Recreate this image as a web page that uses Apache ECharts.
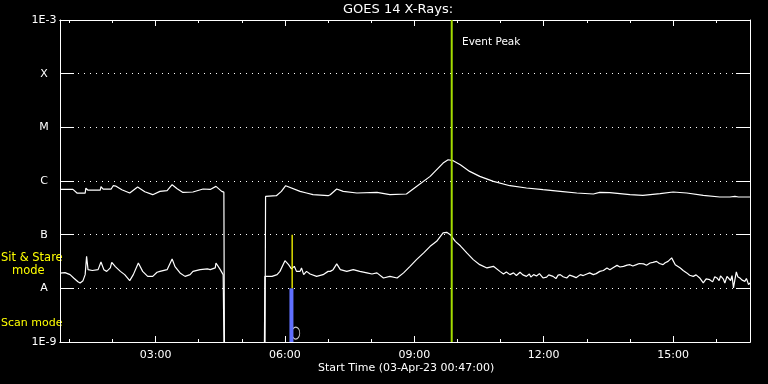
<!DOCTYPE html>
<html><head><meta charset="utf-8">
<script src="https://cdn.jsdelivr.net/npm/echarts@6/dist/echarts.min.js"></script>
<style>html,body{margin:0;padding:0;background:#000}#c{width:768px;height:384px}</style>
</head><body><div id="c"></div>
<script>
// time in minutes after 00:00 on 03-Apr-23
const startMinute = 47;
const endMinute = 1007;
const hourTicks = [60,120,180,240,300,360,420,480,540,600,660,720,780,840,900,960];
const labelTicks = [180,360,540,720,900];
const yLabels = {'-3':'1E-3','-4':'X','-5':'M','-6':'C','-7':'B','-8':'A','-9':'1E-9'};
const titleText = 'GOES 14 X-Rays:';
const xTitle = 'Start Time (03-Apr-23 00:47:00)';
const eventPeakMinute = 592;
const modeSwitchMinute = 370;
const scanMarker = [[375, 1.47e-9]];

// long channel (1-8 A), flux in units of 1e-7 W/m^2
const longChannel = [[47,6.97],[65,6.97],[71,5.93],[82,5.93],[83,7.34],[86,6.74],[103,6.74],[104,7.83],[107,7.03],[118,7.03],[121,8.17],[125,8.0],[133,6.88],[144,5.98],[155,7.73],[165,6.32],[176,5.56],[186,6.40],[196,6.60],[203,8.53],[210,7.19],[218,6.13],[232,6.24],[246,7.09],[256,6.97],[264,7.93],[272,6.40],[275,6.2],[276,0.001],[332,0.001],[333,5.16],[348,5.32],[355,6.40],[361,8.17],[381,6.40],[390,5.98],[399,5.56],[420,5.32],[423,5.56],[432,7.09],[441,6.40],[460,5.98],[488,6.13],[506,5.56],[529,5.73],[543,7.93],[562,12.2],[580,21.6],[587,24.9],[594,23.9],[604,20.1],[617,15.1],[631,12.2],[650,9.83],[673,8.17],[696,7.41],[719,6.88],[743,6.40],[766,5.98],[789,5.73],[798,6.13],[812,6.05],[826,5.80],[840,5.56],[858,5.39],[882,5.80],[900,6.24],[919,5.98],[942,5.39],[965,5.03],[979,5.03],[986,5.16],[991,5.03],[1007,5.03]];

// short channel (0.5-4 A), flux in units of 1e-9 W/m^2
const shortChannel = [[47,19.2],[54,19.6],[61,18.0],[66,15.6],[72,13.3],[75,12.6],[79,13.9],[82,18.0],[84,39.5],[86,22.3],[92,21.5],[100,22.3],[104,31.0],[108,22.3],[112,20.7],[117,24.0],[119,30.5],[124,25.4],[131,20.7],[137,18.0],[144,13.9],[149,18.0],[156,29.7],[162,20.7],[169,16.7],[176,16.7],[182,19.9],[186,20.7],[196,22.3],[203,35.3],[207,25.4],[214,19.4],[221,16.7],[228,18.0],[232,20.7],[242,22.3],[252,23.0],[256,22.3],[263,24.0],[264,29.7],[270,22.3],[274,18.0],[275,17.0],[276,0.1],[331,0.1],[332,16.7],[334,18.0],[342,16.7],[349,18.0],[353,20.7],[360,32.8],[365,27.6],[369,23.0],[373,25.7],[376,20.7],[381,20.7],[383,24.0],[386,18.0],[390,20.7],[395,18.5],[404,16.7],[413,18.0],[420,20.7],[423,20.7],[427,22.3],[432,28.5],[437,22.3],[446,20.7],[455,22.3],[464,20.7],[474,19.4],[481,18.5],[488,19.4],[497,15.6],[506,16.7],[516,15.6],[525,19.4],[534,25.7],[543,34.3],[553,45.7],[562,60.6],[571,75.1],[580,107.7],[585,110.5],[590,100],[597,75.1],[604,62.0],[613,45.7],[622,34.3],[631,27.6],[641,24.0],[650,25.7],[659,20.7],[664,18.5],[668,20.2],[673,18.0],[678,19.4],[682,17.3],[687,19.9],[691,17.8],[696,16.7],[700,18.5],[702,16.2],[706,18.0],[710,17.0],[714,18.8],[719,15.6],[724,16.2],[727,17.8],[733,16.7],[737,15.2],[740,17.6],[743,18.0],[747,16.4],[752,15.6],[756,17.6],[761,16.7],[765,15.8],[771,18.0],[775,17.3],[780,18.5],[784,19.4],[789,18.0],[793,18.8],[798,20.7],[803,21.5],[808,24.0],[812,22.3],[817,24.5],[822,26.8],[826,25.0],[831,25.7],[836,27.0],[840,27.6],[844,26.0],[849,27.6],[853,29.0],[859,28.5],[863,27.0],[868,29.7],[872,30.5],[877,31.8],[881,29.0],[886,27.6],[889,30.0],[893,31.8],[898,36.9],[903,27.6],[910,24.0],[914,21.5],[919,19.4],[923,17.5],[928,16.7],[932,17.8],[937,15.6],[942,12.6],[946,15.0],[951,14.5],[955,13.2],[958,16.5],[961,15.6],[964,13.9],[966,17.0],[968,18.0],[970,14.8],[972,12.6],[975,16.7],[977,18.0],[980,14.0],[982,17.2],[984,10.2],[986,14.5],[988,20.2],[990,16.5],[993,15.6],[996,14.2],[1000,13.5],[1002,15.3],[1005,11.7],[1007,12.6]];

const FONT = 'DejaVu Sans';
const fmtTime = m => String(Math.floor(m/60)).padStart(2,'0') + ':' + String(m%60).padStart(2,'0');

function xAx(pos, ticks, len, labels) {
  return {
    type: 'value', min: startMinute, max: endMinute, position: pos,
    axisLine: {show: true, lineStyle: {color: '#fff', width: 1}},
    axisTick: {show: true, inside: true, length: len, customValues: ticks, lineStyle: {color: '#fff'}},
    axisLabel: labels ? {show: true, customValues: ticks, formatter: fmtTime, color: '#fff', fontFamily: FONT, fontSize: 11, margin: 8} : {show: false},
    splitLine: {show: false}
  };
}
function yAx(pos, labels) {
  return {
    type: 'log', logBase: 10, min: 1e-9, max: 1e-3, splitNumber: 6, position: pos,
    axisLine: {show: true, lineStyle: {color: '#fff', width: 1}},
    axisTick: {show: true, inside: true, length: 14, lineStyle: {color: '#fff'}},
    axisLabel: labels ? {show: true, color: '#fff', fontFamily: FONT, fontSize: 11, margin: 16, align: 'center',
      formatter: v => yLabels[String(Math.round(Math.log10(v)))] || ''} : {show: false},
    splitLine: labels ? {show: true, lineStyle: {color: '#fff', width: 1, type: [1, 5]}} : {show: false}
  };
}

const chart = echarts.init(document.getElementById('c'), null, {renderer: 'canvas'});
chart.setOption({
  backgroundColor: '#000',
  animation: false,
  grid: {left: 60, right: 18, top: 20, bottom: 42},
  xAxis: [xAx('bottom', hourTicks, 3, false), xAx('bottom', labelTicks, 6, true), xAx('top', hourTicks, 3, false), xAx('top', labelTicks, 6, false)],
  yAxis: [yAx('left', true), yAx('right', false)],
  graphic: [
    {type: 'text', left: 343, top: 3, style: {text: titleText, fill: '#fff', font: '13px "DejaVu Sans"'}},
    {type: 'text', left: 318, top: 363, style: {text: xTitle, fill: '#fff', font: '11px "DejaVu Sans"'}},
    {type: 'text', left: 462, top: 37, style: {text: 'Event Peak', fill: '#fff', font: '10.5px "DejaVu Sans"'}},
    {type: 'text', left: 1, top: 252, style: {text: 'Sit & Stare', fill: '#ffff00', font: '11.5px "DejaVu Sans"'}},
    {type: 'text', left: 12, top: 265, style: {text: 'mode', fill: '#ffff00', font: '11.5px "DejaVu Sans"'}},
    {type: 'text', left: 1, top: 318, style: {text: 'Scan mode', fill: '#ffff00', font: '11px "DejaVu Sans"'}}
  ],
  series: [
    {type: 'line', name: 'long', xAxisIndex: 0, yAxisIndex: 0, showSymbol: false, symbol: 'none',
     lineStyle: {color: '#fff', width: 1.2}, data: longChannel.map(p => [p[0], p[1] * 1e-7])},
    {type: 'line', name: 'short', xAxisIndex: 0, yAxisIndex: 0, showSymbol: false, symbol: 'none',
     lineStyle: {color: '#fff', width: 1.2}, data: shortChannel.map(p => [p[0], p[1] * 1e-9])},
    {type: 'line', name: 'peak', xAxisIndex: 0, yAxisIndex: 0, showSymbol: false, symbol: 'none',
     lineStyle: {color: '#a4dc00', width: 2}, data: [[eventPeakMinute, 1e-9], [eventPeakMinute, 1e-3]]},
    {type: 'line', name: 'scan', xAxisIndex: 0, yAxisIndex: 0, showSymbol: false, symbol: 'none',
     lineStyle: {color: '#6070ff', width: 4}, data: [[modeSwitchMinute - 1, 1e-9], [modeSwitchMinute - 1, 1e-8]]},
    {type: 'line', name: 'sitstare', xAxisIndex: 0, yAxisIndex: 0, showSymbol: false, symbol: 'none',
     lineStyle: {color: '#ffff00', width: 1.3}, data: [[modeSwitchMinute, 1e-8], [modeSwitchMinute, 1e-7]]},
    {type: 'scatter', name: 'marker', xAxisIndex: 0, yAxisIndex: 0, symbol: 'circle', symbolSize: [8, 12],
     itemStyle: {color: 'rgba(0,0,0,0)', borderColor: '#fff', borderWidth: 1}, data: scanMarker}
  ]
});
</script></body></html>
